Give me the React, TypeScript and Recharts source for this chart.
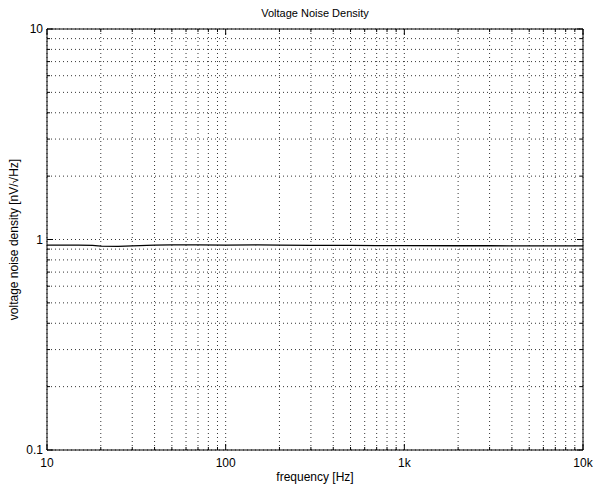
import { LineChart, Line, XAxis, YAxis, CartesianGrid, Label } from "recharts";

const freqs = [10, 12, 15, 18, 20, 25, 30, 40, 50, 70, 100, 150, 200, 300, 500, 700, 1000, 2000, 3000, 5000, 7000, 10000];
const noise = [0.94, 0.94, 0.94, 0.938, 0.93, 0.928, 0.932, 0.94, 0.942, 0.943, 0.94, 0.942, 0.94, 0.938, 0.937, 0.936, 0.935, 0.934, 0.934, 0.933, 0.933, 0.933];

const xTicks = [10, 20, 30, 40, 50, 60, 70, 80, 90, 100, 200, 300, 400, 500, 600, 700, 800, 900, 1000, 2000, 3000, 4000, 5000, 6000, 7000, 8000, 9000, 10000];
const yTicks = [0.1, 0.2, 0.3, 0.4, 0.5, 0.6, 0.7, 0.8, 0.9, 1, 2, 3, 4, 5, 6, 7, 8, 9, 10];
const xLabels: Record<number, string> = { 10: "10", 100: "100", 1000: "1k", 10000: "10k" };
const yLabels: Record<number, string> = { 0.1: "0.1", 1: "1", 10: "10" };

const data = freqs.map((f, i) => ({ f, v: noise[i] }));

const FONT = "'Liberation Sans', Arial, sans-serif";

function BottomTick({ x, y, payload }: any) {
  const lab = xLabels[payload.value];
  return (
    <g>
      <line x1={x} x2={x} y1={y} y2={y - (lab ? 6 : 3)} stroke="#000" />
      {lab && (
        <text x={x} y={y + 17} textAnchor="middle" fontSize={12} fontFamily={FONT} fill="#000">
          {lab}
        </text>
      )}
    </g>
  );
}

function TopTick({ x, y, payload }: any) {
  const lab = xLabels[payload.value];
  return <line x1={x} x2={x} y1={y} y2={y + (lab ? 6 : 3)} stroke="#000" />;
}

function LeftTick({ x, y, payload }: any) {
  const lab = yLabels[payload.value];
  return (
    <g>
      <line x1={x} x2={x + (lab ? 6 : 3)} y1={y} y2={y} stroke="#000" />
      {lab && (
        <text x={x - 4} y={y + 4} textAnchor="end" fontSize={12} fontFamily={FONT} fill="#000">
          {lab}
        </text>
      )}
    </g>
  );
}

function RightTick({ x, y, payload }: any) {
  const lab = yLabels[payload.value];
  return <line x1={x} x2={x - (lab ? 6 : 3)} y1={y} y2={y} stroke="#000" />;
}

export default function App() {
  return (
    <div style={{ position: "absolute", left: 0, top: 0, width: 595, height: 491, background: "#fff" }}>
      <div
        style={{
          position: "absolute",
          left: 47,
          width: 536,
          top: 7,
          textAlign: "center",
          fontFamily: FONT,
          fontSize: 11,
          color: "#000",
        }}
      >
        Voltage Noise Density
      </div>
      <LineChart width={595} height={491} data={data} margin={{ top: 0, right: 0, bottom: 0, left: 0 }}>
        <CartesianGrid stroke="#000" strokeDasharray="1 3" strokeWidth={0.8} />
        <XAxis
          dataKey="f"
          type="number"
          scale="log"
          domain={[10, 10000]}
          allowDataOverflow
          ticks={xTicks}
          interval={0}
          height={41}
          tickSize={0}
          tickMargin={0}
          tick={<BottomTick />}
          axisLine={{ stroke: "#000" }}
        >
          <Label
            content={({ viewBox }: any) => (
              <text
                x={viewBox.x + viewBox.width / 2}
                y={viewBox.y + 31}
                textAnchor="middle"
                fontSize={12}
                fontFamily={FONT}
                fill="#000"
              >
                frequency [Hz]
              </text>
            )}
          />
        </XAxis>
        <XAxis
          xAxisId="top"
          orientation="top"
          dataKey="f"
          type="number"
          scale="log"
          domain={[10, 10000]}
          allowDataOverflow
          ticks={xTicks}
          interval={0}
          height={29}
          tickSize={0}
          tickMargin={0}
          tick={<TopTick />}
          axisLine={{ stroke: "#000" }}
        />
        <YAxis
          type="number"
          scale="log"
          domain={[0.1, 10]}
          allowDataOverflow
          ticks={yTicks}
          interval={0}
          width={47}
          tickSize={0}
          tickMargin={0}
          tick={<LeftTick />}
          axisLine={{ stroke: "#000" }}
        >
          <Label
            content={({ viewBox }: any) => {
              const cx = 14;
              const cy = viewBox.y + viewBox.height / 2;
              return (
                <text
                  x={cx}
                  y={cy}
                  transform={`rotate(-90, ${cx}, ${cy})`}
                  textAnchor="middle"
                  dominantBaseline="central"
                  fontSize={12}
                  fontFamily={FONT}
                  fill="#000"
                >
                  voltage noise density [nV/√Hz]
                </text>
              );
            }}
          />
        </YAxis>
        <YAxis
          yAxisId="right"
          orientation="right"
          type="number"
          scale="log"
          domain={[0.1, 10]}
          allowDataOverflow
          ticks={yTicks}
          interval={0}
          width={12}
          tickSize={0}
          tickMargin={0}
          tick={<RightTick />}
          axisLine={{ stroke: "#000" }}
        />
        <Line
          dataKey="v"
          type="linear"
          stroke="#000"
          strokeWidth={1.3}
          dot={false}
          isAnimationActive={false}
        />
      </LineChart>
    </div>
  );
}
